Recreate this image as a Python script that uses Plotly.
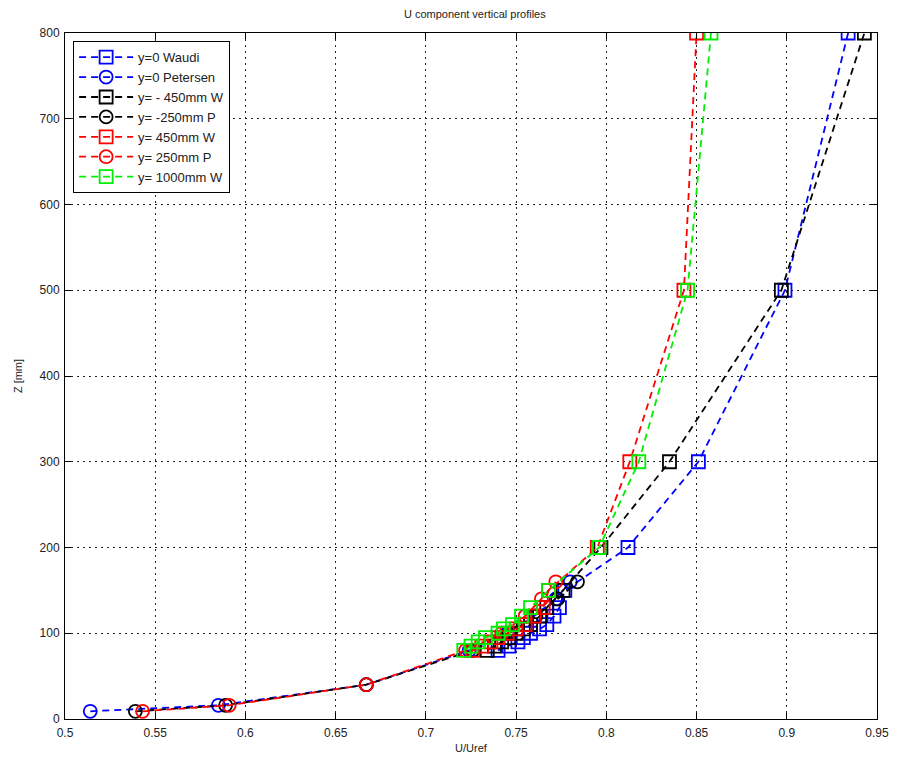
import plotly.graph_objects as go

# Heights (mm) of the two measurement campaigns
z_w = [80, 85, 90, 95, 100, 105, 110, 120, 130, 150, 200, 300, 500, 800]
z_p = [9, 16, 40, 80, 100, 120, 140, 160]

# U/Uref profiles
u_y0_waudi = [0.740, 0.746, 0.751, 0.754, 0.758, 0.763, 0.767, 0.771, 0.774, 0.777, 0.812, 0.851, 0.899, 0.934]
u_y0_petersen = [0.514, 0.585, 0.667, 0.724, 0.745, 0.760, 0.772, 0.780]
u_ym450_w = [0.734, 0.738, 0.742, 0.746, 0.750, 0.754, 0.758, 0.763, 0.767, 0.776, 0.797, 0.835, 0.897, 0.943]
u_ym250_p = [0.539, 0.589, 0.667, 0.726, 0.746, 0.761, 0.773, 0.784]
u_y450_w = [0.726, 0.731, 0.736, 0.740, 0.745, 0.750, 0.755, 0.760, 0.765, 0.768, 0.795, 0.813, 0.843, 0.850]
u_y250_p = [0.543, 0.591, 0.667, 0.722, 0.742, 0.755, 0.764, 0.772]
u_y1000_w = [0.721, 0.725, 0.729, 0.733, 0.740, 0.743, 0.748, 0.753, 0.758, 0.768, 0.796, 0.818, 0.845, 0.858]

series = [
    ("y=0 Waudi", u_y0_waudi, z_w, "#0000ff", "square-open"),
    ("y=0 Petersen", u_y0_petersen, z_p, "#0000ff", "circle-open"),
    ("y= - 450mm W", u_ym450_w, z_w, "#000000", "square-open"),
    ("y= -250mm P", u_ym250_p, z_p, "#000000", "circle-open"),
    ("y= 450mm W", u_y450_w, z_w, "#ff0000", "square-open"),
    ("y= 250mm P", u_y250_p, z_p, "#ff0000", "circle-open"),
    ("y= 1000mm W", u_y1000_w, z_w, "#00ee00", "square-open"),
]

FONT = "Liberation Sans, Arial"

fig = go.Figure()
for name, u, z, color, symbol in series:
    fig.add_trace(go.Scatter(
        x=u, y=z, name=name, mode="lines+markers",
        line=dict(color=color, width=1.8, dash="7px,5px"),
        marker=dict(symbol=symbol, size=13, color=color,
                    line=dict(color=color, width=1.8)),
    ))

axis_common = dict(
    showline=True, linecolor="black", linewidth=1, mirror="ticks",
    ticks="inside", ticklen=6, tickcolor="black",
    showgrid=True, gridcolor="#222", griddash="2px,4px", gridwidth=1.2,
    zeroline=False,
    tickfont=dict(family=FONT, size=12, color="#222"),
)

fig.update_layout(
    width=901, height=764,
    margin=dict(l=65, r=16, t=33, b=43),
    paper_bgcolor="white", plot_bgcolor="white",
    title=dict(text="U component vertical profiles", x=0.527, xanchor="center",
               y=0.982, yanchor="middle",
               font=dict(family=FONT, size=11, color="#222")),
    xaxis=dict(range=[0.5, 0.95], dtick=0.05, tick0=0.5, ticklabelstandoff=3,
               title=dict(text="U/Uref", standoff=4,
                          font=dict(family=FONT, size=11, color="#222")),
               **axis_common),
    yaxis=dict(range=[0, 800], dtick=100, ticklabelstandoff=2,
               title=dict(text="Z [mm]", standoff=14,
                          font=dict(family=FONT, size=11, color="#222")),
               **axis_common),
    legend=dict(x=0.01, y=0.988, xanchor="left", yanchor="top",
                bgcolor="white", bordercolor="black", borderwidth=1,
                font=dict(family=FONT, size=13, color="#222"),
                tracegroupgap=0, itemwidth=54),
    showlegend=True,
)

fig.write_html("out.html")
